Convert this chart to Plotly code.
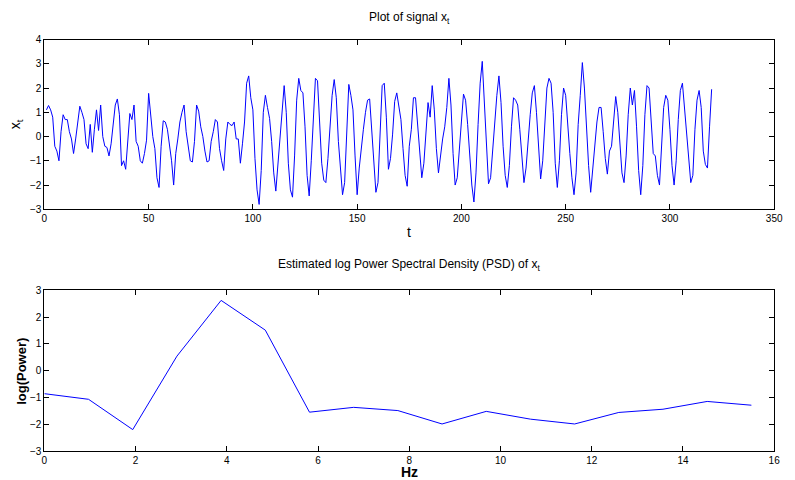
import plotly.graph_objects as go

# ---- Data ----
signal_x = [
    1.1, 1.28, 1.1, 0.8, -0.4, -0.6, -1.0, 0.2, 0.9, 0.7,
    0.7, 0.2, -0.1, -0.7, -0.1, 0.7, 1.25, 1.0, 0.7, -0.3,
    -0.5, 0.5, -0.65, 0.3, 1.1, 0.25, 1.3, 0.0, -0.4, -0.45,
    -0.8, -0.3, 0.6, 1.3, 1.55, 0.9, -1.2, -1.0, -1.35, -0.2,
    0.95, 0.7, 1.3, -0.2, -0.4, -1.0, -1.1, -0.7, -0.15, 1.78,
    0.8, 0.0, -0.5, -1.7, -2.1, -0.4, 0.65, 0.6, 0.3, -0.3,
    -1.0, -2.0, -0.7, -0.1, 0.6, 1.0, 1.3, 0.2, -0.4, -1.0,
    -1.05, -0.2, 1.3, 1.05, 0.4, 0.0, -0.6, -1.05, -1.0, -0.2,
    0.2, 0.7, 0.6, -0.5, -1.0, -1.4, -0.1, 0.6, 0.5, 0.45,
    0.6, -0.1, -0.1, -1.1, -0.3, 0.6, 2.2, 2.5, 1.6, 1.1,
    -0.9, -2.2, -2.8, -1.4, 1.0, 1.7, 1.2, 0.75, -0.2, -1.5,
    -2.25, -1.2, 0.2, 1.2, 2.1, 1.0, -1.1, -2.2, -2.5, -0.8,
    1.5, 2.4, 1.9, 1.8, 0.4, -1.6, -2.45, -1.0, 0.9, 2.4,
    2.3, 0.6, -1.1, -1.8, -1.9, -0.9, 0.6, 1.7, 2.35, 1.6,
    -0.2, -1.5, -2.4, -1.9, 0.1, 2.15, 1.7, 1.1, -0.8, -2.4,
    -1.3, -0.35, 0.3, 1.0, 1.5, 1.55, 0.3, -1.4, -2.3, -1.9,
    0.5, 2.1, 2.2, 0.8, -1.35, -0.9, 0.1, 1.45, 1.8, 1.3,
    0.7, -0.5, -1.6, -2.05, -0.4, 0.3, 1.6, 1.6, 0.5, -0.7,
    -1.7, -1.1, 0.1, 1.4, 0.8, 2.1, 1.1, -0.5, -1.5, -0.7,
    -0.1, 0.4, 1.2, 2.4, 1.3, -0.7, -2.0, -1.7, -0.7, 0.6,
    1.75, 1.5, 0.5, -0.7, -2.0, -2.7, -1.5, 0.5, 2.2, 3.1,
    1.5, -0.1, -1.95, -1.7, -0.5, 0.7, 1.7, 2.5, 1.4, -0.4,
    -1.6, -2.1, -1.2, 0.4, 1.6, 1.5, 1.3, 0.3, -1.0, -1.9,
    -1.3, -0.1, 0.9, 1.8, 2.1, 1.0, -0.6, -1.75, -1.0, 0.4,
    2.0, 2.4, 2.2, 1.0, -1.1, -2.1, -1.0, 0.9, 2.0, 1.7,
    0.4, -0.7, -1.7, -2.4, -1.5, 0.5, 1.7, 3.05, 2.0, 0.05,
    -1.2, -2.3, -1.4, -0.2, 0.6, 1.2, 1.2, 0.2, -0.9, -1.55,
    -0.6, -0.4, 0.6, 1.65, 1.0, -0.2, -1.5, -1.9, -0.8, 0.9,
    2.0, 1.3, 1.9, 0.4, -1.4, -2.4, -1.2, 0.9, 2.1, 2.0,
    0.8, -0.7, -0.8, -1.6, -2.0, -0.2, 1.2, 1.7, 1.5, 0.3,
    -1.2, -2.0, -1.0, 0.7, 1.9, 2.2, 1.2, 0.25, -1.0, -1.9,
    -1.6, 0.3, 1.5, 1.9, 1.2, -0.6, -1.15, -1.3, 0.4, 1.95,
]
time_t = list(range(1, len(signal_x) + 1))

psd_freq = [0.0, 0.96875, 1.9375, 2.90625, 3.875, 4.84375, 5.8125, 6.78125,
            7.75, 8.71875, 9.6875, 10.65625, 11.625, 12.59375, 13.5625,
            14.53125, 15.5]
psd_logpower = [-0.86, -1.07, -2.2, 0.54, 2.62, 1.51, -1.55, -1.37,
                -1.49, -1.99, -1.52, -1.81, -1.99, -1.56, -1.44,
                -1.15, -1.29]

top_xticks = [0, 50, 100, 150, 200, 250, 300, 350]
top_yticks = [-3, -2, -1, 0, 1, 2, 3, 4]
bot_xticks = [0, 2, 4, 6, 8, 10, 12, 14, 16]
bot_yticks = [-3, -2, -1, 0, 1, 2, 3]

# ---- Figure ----
W, H = 795, 480
MB = 25                      # bottom margin (px)
PH = H - MB                  # plot-area height in px


def py(p):                   # pixel row -> paper y
    return 1 - p / PH


fig = go.Figure()
fig.add_trace(go.Scatter(x=time_t, y=signal_x, mode="lines",
                         line=dict(color="#0000ff", width=1),
                         xaxis="x", yaxis="y", showlegend=False))
fig.add_trace(go.Scatter(x=psd_freq, y=psd_logpower, mode="lines",
                         line=dict(color="#0000ff", width=1),
                         xaxis="x2", yaxis="y2", showlegend=False))

tickfont = dict(family="Liberation Sans Narrow, Arial Narrow, Liberation Sans, Arial", size=10, color="#000")
axcommon = dict(showline=True, linecolor="#000", linewidth=1, mirror="ticks",
                ticks="inside", ticklen=5, tickcolor="#000", showgrid=False,
                zeroline=False, tickfont=tickfont)

xl, xr = 42 / W, 783 / W
fig.update_layout(
    width=W, height=H,
    margin=dict(l=0, r=0, t=0, b=MB),
    paper_bgcolor="white", plot_bgcolor="white",
    xaxis=dict(domain=[xl, xr], range=[0, 350], tickvals=top_xticks,
               anchor="y", **axcommon),
    yaxis=dict(domain=[py(206), py(34)], range=[-3, 4], tickvals=top_yticks,
               anchor="x", **axcommon),
    xaxis2=dict(domain=[xl, xr], range=[0, 16], tickvals=bot_xticks,
                anchor="y2", **axcommon),
    yaxis2=dict(domain=[py(451), py(288)], range=[-3, 3], tickvals=bot_yticks,
                anchor="x2", **axcommon),
)

font_main = "Liberation Sans, Arial"
cx = (xl + xr) / 2
ann = [
    dict(text="Plot of signal x<sub>t</sub>", x=cx, y=py(12),
         font=dict(family=font_main, size=12, color="#000")),
    dict(text="t", x=cx, y=py(229),
         font=dict(family=font_main, size=14, color="#000")),
    dict(text="x<sub>t</sub>", x=14 / W, y=py(120), textangle=-90,
         font=dict(family=font_main, size=14, color="#000")),
    dict(text="Estimated log Power Spectral Density (PSD) of x<sub>t</sub>", x=cx, y=py(262),
         font=dict(family=font_main, size=12, color="#000")),
    dict(text="<b>Hz</b>", x=cx, y=py(472),
         font=dict(family=font_main, size=14, color="#000")),
    dict(text="<b>log(Power)</b>", x=18 / W, y=py(370), textangle=-90,
         font=dict(family=font_main, size=13, color="#000")),
]
for a in ann:
    a.update(xref="paper", yref="paper", showarrow=False,
             xanchor="center", yanchor="middle")
fig.update_layout(annotations=ann)

fig.write_html("out.html")
